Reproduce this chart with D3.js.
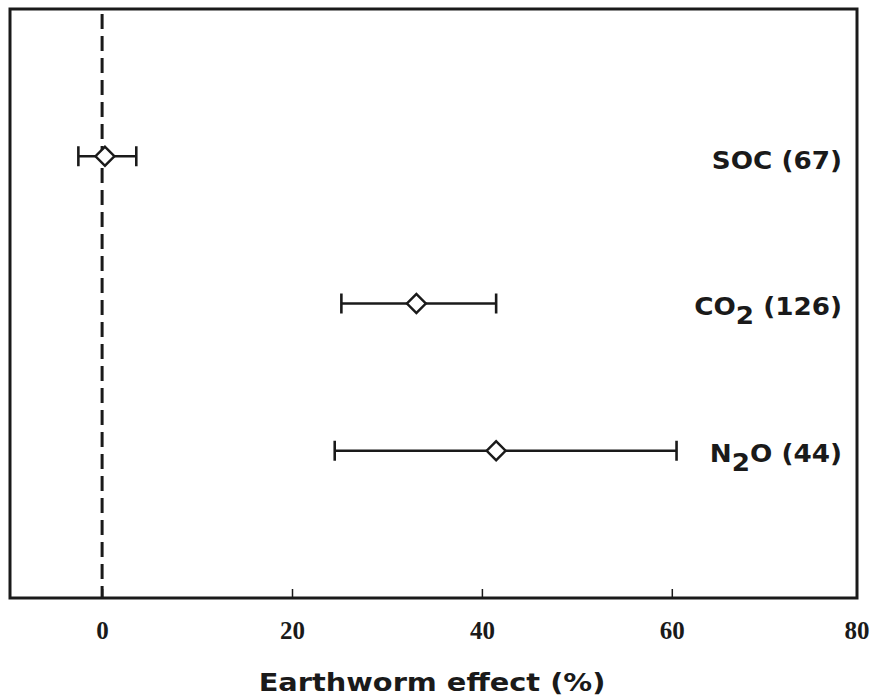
<!DOCTYPE html>
<html>
<head>
<meta charset="utf-8">
<script src="https://cdn.jsdelivr.net/npm/d3@7"></script>
<style>
  html, body { margin: 0; padding: 0; background: #fff; }
  svg { display: block; }
</style>
</head>
<body>
<svg id="chart" width="870" height="699"></svg>
<script>
// Effet des vers de terre (%) : moyenne et intervalle par variable
const categories = ['SOC', 'CO2', 'N2O'];
const counts = [67, 126, 44];
const means = [0.3, 33.1, 41.5];
const lower = [-2.5, 25.2, 24.5];
const upper = [3.6, 41.5, 60.5];
const xTicks = [0, 20, 40, 60, 80];
const xTitle = 'Earthworm effect (%)';

const INK = '#1a1a1a';
const FRAME = { left: 10, top: 9, right: 857, bottom: 598 };

const svg = d3.select('#chart');

const x = d3.scaleLinear().domain([-9.7, 79.4]).range([FRAME.left, FRAME.right - 1]);
const y = d3.scalePoint().domain(categories).range([FRAME.top, FRAME.bottom]).padding(1);

// --- Cadre ---
svg.append('rect')
  .attr('x', FRAME.left).attr('y', FRAME.top)
  .attr('width', FRAME.right - FRAME.left).attr('height', FRAME.bottom - FRAME.top)
  .attr('fill', 'none').attr('stroke', INK).attr('stroke-width', 3);

// --- Axe bas : ticks intérieurs + libellés serif ---
const xAxis = svg.append('g')
  .attr('transform', `translate(0,${FRAME.bottom})`)
  .call(d3.axisBottom(x).tickValues(xTicks).tickSize(-9).tickPadding(23).tickFormat(d3.format('d')));
xAxis.select('.domain').remove();
xAxis.selectAll('.tick line')
  .attr('stroke', INK).attr('stroke-width', 1.5)
  .attr('display', d => (d === 80 ? 'none' : null));
xAxis.selectAll('.tick text')
  .attr('fill', INK)
  .style('font-family', '"Liberation Serif", "DejaVu Serif", serif')
  .style('font-weight', 'bold')
  .style('font-size', '25px');
// le « 80 » touche le bord droit : on l'aligne à droite pour qu'il reste visible
xAxis.selectAll('.tick text').filter(d => d === 80)
  .attr('text-anchor', 'end').attr('x', 869 - x(80));

const title = svg.append('text')
  .attr('x', 432)
  .attr('y', 691)
  .attr('text-anchor', 'middle')
  .style('font-family', '"DejaVu Sans", Verdana, sans-serif')
  .style('font-weight', 'bold')
  .style('font-size', '24px')
  .attr('fill', INK)
  .text(xTitle);
title.attr('textLength', title.node().getComputedTextLength() * 1.2).attr('lengthAdjust', 'spacingAndGlyphs');

// --- Ligne zéro en tirets ---
svg.append('line')
  .attr('x1', x(0)).attr('x2', x(0))
  .attr('y1', FRAME.top + 5).attr('y2', FRAME.bottom)
  .attr('stroke', INK).attr('stroke-width', 3)
  .attr('stroke-dasharray', '15,7');

// --- Barres d'erreur + losanges ---
const rows = categories.map((c, i) => ({ c, n: counts[i], m: means[i], lo: lower[i], hi: upper[i] }));
const CAP = 10;

const g = svg.append('g').selectAll('g').data(rows).join('g')
  .attr('transform', d => `translate(0,${y(d.c)})`);

g.append('line')
  .attr('x1', d => x(d.lo)).attr('x2', d => x(d.hi))
  .attr('stroke', INK).attr('stroke-width', 2.6);
g.append('line')
  .attr('x1', d => x(d.lo)).attr('x2', d => x(d.lo))
  .attr('y1', -CAP).attr('y2', CAP)
  .attr('stroke', INK).attr('stroke-width', 2.6);
g.append('line')
  .attr('x1', d => x(d.hi)).attr('x2', d => x(d.hi))
  .attr('y1', -CAP).attr('y2', CAP)
  .attr('stroke', INK).attr('stroke-width', 2.6);
g.append('path')
  .attr('d', d3.symbol(d3.symbolSquare, 180))
  .attr('transform', d => `translate(${x(d.m)},0) rotate(45)`)
  .attr('fill', '#fff').attr('stroke', INK).attr('stroke-width', 2.4);

// --- Libellés à droite (indices chimiques décalés vers le bas) ---
const SUB = 9;
const label = g.append('text')
  .attr('x', 842).attr('y', d => (d.c === 'SOC' ? 13 : 11))
  .attr('text-anchor', 'end')
  .style('font-family', '"DejaVu Sans", Verdana, sans-serif')
  .style('font-weight', 'bold')
  .style('font-size', '25px')
  .attr('fill', INK);

label.each(function (d) {
  const t = d3.select(this);
  const parts = d.c.match(/[A-Z]+|\d+/g).map(p => [p, /\d/.test(p)]);
  let down = false;
  parts.forEach(([txt, sub]) => {
    const dy = sub ? SUB : (down ? -SUB : 0);
    down = sub;
    t.append('tspan').attr('dy', dy).text(txt);
  });
  t.append('tspan').attr('dy', down ? -SUB : 0).text(` (${d.n})`);
  t.attr('textLength', this.getComputedTextLength() * 1.05).attr('lengthAdjust', 'spacingAndGlyphs');
});
</script>
</body>
</html>
